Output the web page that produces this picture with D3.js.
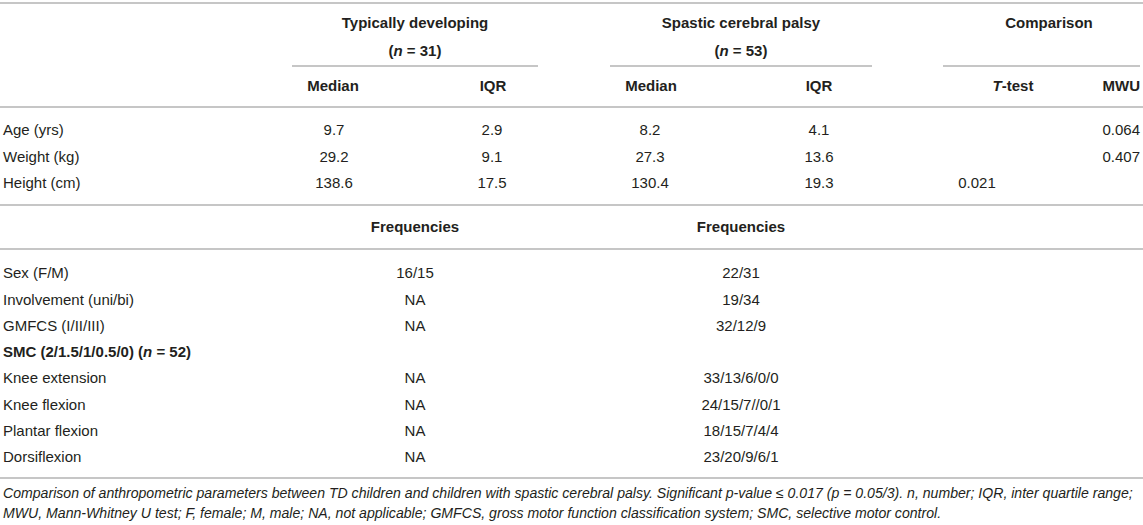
<!DOCTYPE html>
<html><head><meta charset="utf-8">
<script src="https://cdn.jsdelivr.net/npm/d3@7/dist/d3.min.js"></script>
<style>
html,body{margin:0;padding:0;background:#fff;}
svg text{font-family:"Liberation Sans",Arial,sans-serif;fill:#231f20;}
</style></head><body>
<svg id="chart" width="1143" height="525"></svg>
<script>
// ---- data ----
const groups = ["Typically developing", "Spastic cerebral palsy", "Comparison"];
const groupN = ["31", "53", null];
const subHeaders = ["Median", "IQR", "Median", "IQR", "T-test", "MWU"];
const contLabels = ["Age (yrs)", "Weight (kg)", "Height (cm)"];
const tdMedian = ["9.7", "29.2", "138.6"];
const tdIQR = ["2.9", "9.1", "17.5"];
const cpMedian = ["8.2", "27.3", "130.4"];
const cpIQR = ["4.1", "13.6", "19.3"];
const tTest = ["", "", "0.021"];
const mwu = ["0.064", "0.407", ""];
const freqHeaders = ["Frequencies", "Frequencies"];
const freqLabels = ["Sex (F/M)", "Involvement (uni/bi)", "GMFCS (I/II/III)", "SMC (2/1.5/1/0.5/0) (n = 52)",
  "Knee extension", "Knee flexion", "Plantar flexion", "Dorsiflexion"];
const tdFreq = ["16/15", "NA", "NA", "", "NA", "NA", "NA", "NA"];
const cpFreq = ["22/31", "19/34", "32/12/9", "", "33/13/6/0/0", "24/15/7//0/1", "18/15/7/4/4", "23/20/9/6/1"];
const captionLines = [
  "Comparison of anthropometric parameters between TD children and children with spastic cerebral palsy. Significant p-value \u2264 0.017 (p = 0.05/3). n, number; IQR, inter quartile range;",
  "MWU, Mann-Whitney U test; F, female; M, male; NA, not applicable; GMFCS, gross motor function classification system; SMC, selective motor control."
];

// ---- layout ----
const W = 1143;
const svg = d3.select("#chart");
const fs = 15;
const lineColor = "#c6c6c6";

const colKeys = ["label", "tdMed", "tdIQR", "cpMed", "cpIQR", "t", "mwu"];
const headX = d3.scaleOrdinal().domain(colKeys).range([3, 333, 493, 651, 819, 1013, 1140]);
const colX = d3.scaleOrdinal().domain(colKeys).range([3, 334, 492, 650, 819, 977, 1140]);
const colAnchor = d3.scaleOrdinal().domain(colKeys).range(["start", "middle", "middle", "middle", "middle", "middle", "end"]);
const groupX = d3.scaleOrdinal().domain(groups).range([415, 741, 1049]);
const groupLine = d3.scaleOrdinal().domain(groups).range([[292, 538], [610, 872], [943, 1140]]);
const freqX = d3.scaleOrdinal().domain(["label", "td", "cp"]).range([3, 415, 741]);

const yCont = d3.scaleLinear().domain([0, 2]).range([130, 183]);
const yFreq = d3.scaleLinear().domain([0, 7]).range([273, 457]);

function hline(y, x1, x2) {
  svg.append("line").attr("x1", x1).attr("x2", x2).attr("y1", y).attr("y2", y)
    .attr("stroke", lineColor).attr("stroke-width", 2);
}
// rules
hline(3, 0, W);
groups.forEach(g => { const r = groupLine(g); hline(66, r[0], r[1]); });
hline(107, 0, W);
hline(205, 0, W);
hline(249, 0, W);
hline(478, 0, W);

// group headers
svg.selectAll("text.grp").data(groups).join("text").attr("class", "grp")
  .attr("x", d => groupX(d)).attr("y", 23).attr("dy", "0.35em")
  .attr("text-anchor", "middle").attr("font-weight", "bold").attr("font-size", fs).text(d => d);
groups.forEach((g, i) => {
  if (groupN[i] == null) return;
  const t = svg.append("text").attr("x", groupX(g)).attr("y", 51).attr("dy", "0.35em")
    .attr("text-anchor", "middle").attr("font-weight", "bold").attr("font-size", fs);
  t.append("tspan").text("(");
  t.append("tspan").attr("font-style", "italic").text("n");
  t.append("tspan").text(" = " + groupN[i] + ")");
});
// sub headers
const subCols = colKeys.slice(1);
subHeaders.forEach((h, i) => {
  const k = subCols[i];
  const t = svg.append("text").attr("x", headX(k)).attr("y", 86).attr("dy", "0.35em")
    .attr("text-anchor", colAnchor(k)).attr("font-weight", "bold").attr("font-size", fs);
  if (h === "T-test") {
    t.append("tspan").attr("font-style", "italic").text("T");
    t.append("tspan").text("-test");
  } else t.text(h);
});

// continuous rows
const contCols = [contLabels, tdMedian, tdIQR, cpMedian, cpIQR, tTest, mwu];
contCols.forEach((arr, ci) => {
  const k = colKeys[ci];
  svg.append("g").selectAll("text").data(arr).join("text")
    .attr("x", colX(k)).attr("y", (d, i) => yCont(i)).attr("dy", "0.35em")
    .attr("text-anchor", colAnchor(k)).attr("font-size", fs).text(d => d);
});

// frequencies header
["td", "cp"].forEach((k, i) => {
  svg.append("text").attr("x", freqX(k)).attr("y", 227).attr("dy", "0.35em")
    .attr("text-anchor", "middle").attr("font-weight", "bold").attr("font-size", fs).text(freqHeaders[i]);
});

// frequency rows
freqLabels.forEach((lab, i) => {
  const t = svg.append("text").attr("x", freqX("label")).attr("y", yFreq(i)).attr("dy", "0.35em")
    .attr("font-size", fs);
  if (lab.startsWith("SMC")) {
    t.attr("font-weight", "bold");
    t.append("tspan").text("SMC (2/1.5/1/0.5/0) (");
    t.append("tspan").attr("font-style", "italic").text("n");
    t.append("tspan").text(" = 52)");
  } else t.text(lab);
});
svg.append("g").selectAll("text").data(tdFreq).join("text")
  .attr("x", freqX("td")).attr("y", (d, i) => yFreq(i)).attr("dy", "0.35em")
  .attr("text-anchor", "middle").attr("font-size", fs).text(d => d);
svg.append("g").selectAll("text").data(cpFreq).join("text")
  .attr("x", freqX("cp")).attr("y", (d, i) => yFreq(i)).attr("dy", "0.35em")
  .attr("text-anchor", "middle").attr("font-size", fs).text(d => d);

// caption
svg.append("g").selectAll("text").data(captionLines).join("text")
  .attr("x", 3).attr("y", (d, i) => 493 + i * 20).attr("dy", "0.35em")
  .attr("font-style", "italic").attr("font-size", 14.1).attr("fill", "#333").text(d => d);
</script>
</body></html>
